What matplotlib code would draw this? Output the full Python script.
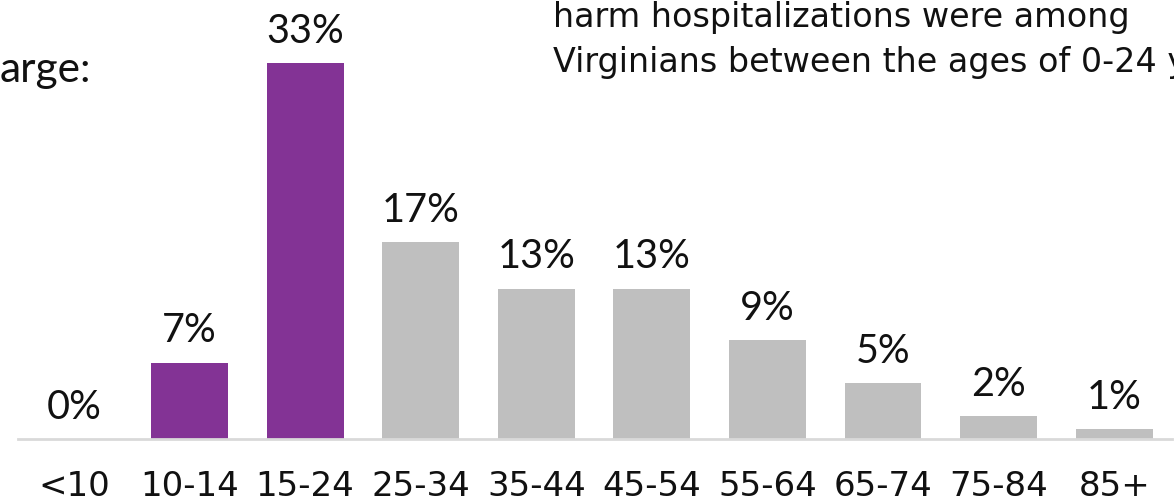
import matplotlib.pyplot as plt

# age groups and share of self-harm hospitalizations (%)
age_groups = ['<10', '10-14', '15-24', '25-34', '35-44', '45-54', '55-64', '65-74', '75-84', '85+']
shares = [0, 6.7, 33, 17.3, 13.2, 13.2, 8.7, 4.9, 2.0, 0.9]
labels = ['0%', '7%', '33%', '17%', '13%', '13%', '9%', '5%', '2%', '1%']
highlight = ['10-14', '15-24']

purple = '#833395'
gray = '#BFBFBF'

fig = plt.figure(figsize=(11.74, 5.04), dpi=100)
ax = fig.add_axes([18 / 1174, 65 / 504, (1172 - 18) / 1174, 36 * 11.4 / 504])

colors = [purple if a in highlight else gray for a in age_groups]
x = list(range(len(age_groups)))
ax.bar(x, shares, width=0.665, color=colors)

for xi, v, lab in zip(x, shares, labels):
    ax.annotate(lab, (xi, v), xytext=(0, 14.5), textcoords='offset points',
                ha='center', va='baseline', fontsize=28.5, family='Lato', color='#111111')

ax.set_xlim(-0.484, 9.5)
ax.set_ylim(0, 36)
ax.set_xticks(x)
ax.set_xticklabels(age_groups, fontsize=24.5, color='#111111')
ax.tick_params(axis='x', length=0, pad=22)
ax.set_yticks([])
for s in ['top', 'right', 'left']:
    ax.spines[s].set_visible(False)
ax.spines['bottom'].set_color('#D9D9D9')
ax.spines['bottom'].set_linewidth(2)

# cropped slide text around the chart
fig.text(0, 1 - 82 / 504, 'arge:', fontsize=30.5, family='Lato', color='#111111', va='baseline')
fig.text(553 / 1174, 1 - 27 / 504, 'harm hospitalizations were among', fontsize=24,
         color='#111111', va='baseline')
fig.text(553 / 1174, 1 - 72 / 504, 'Virginians between the ages of 0-24 y', fontsize=24,
         color='#111111', va='baseline')

fig.savefig('out.png', dpi=100)
